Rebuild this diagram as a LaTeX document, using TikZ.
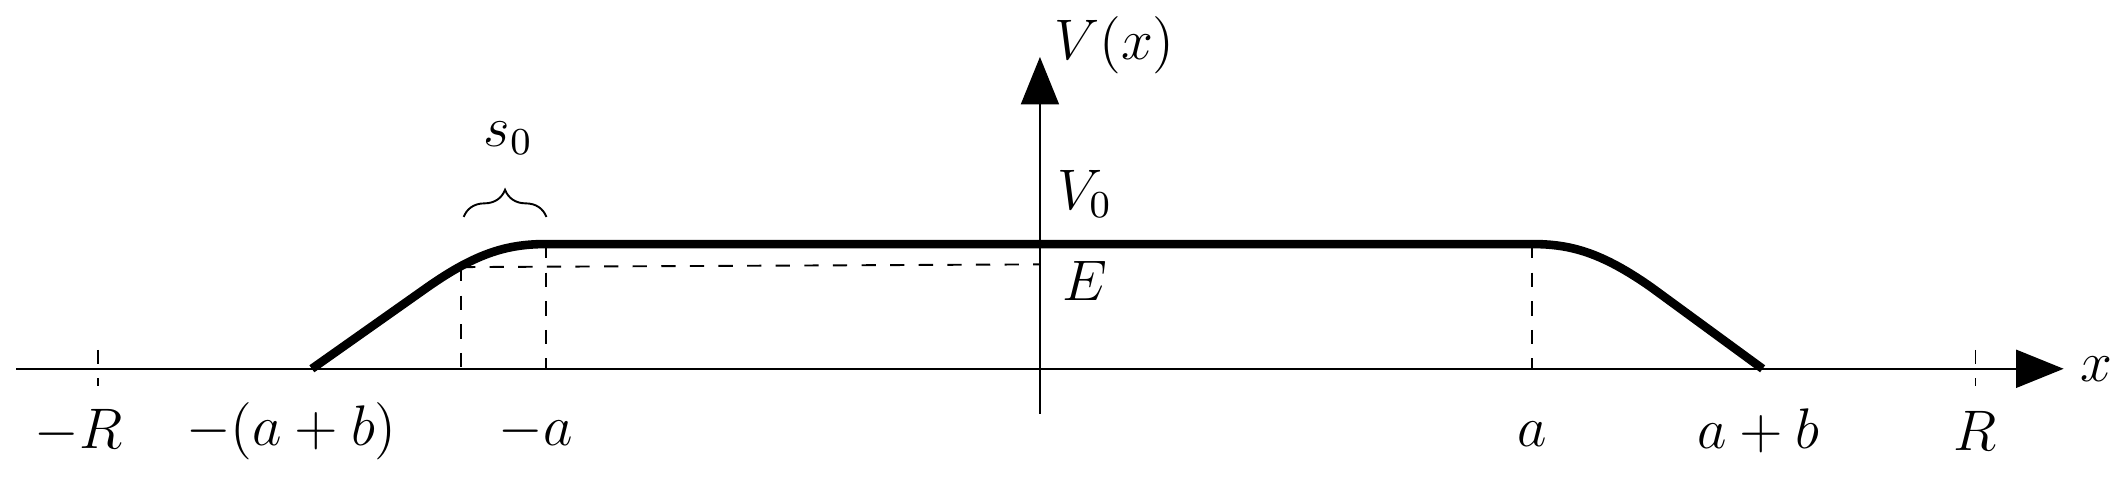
\documentclass[tikz,border=0pt]{standalone}
\usetikzlibrary{arrows.meta,decorations.pathreplacing}
\begin{document}
\begin{tikzpicture}[x=0.01cm,y=-0.01cm,font=\large,
    axis/.style={-{Triangle[length=0.35cm,width=0.28cm]}},
    guide/.style={dashed}]
    \useasboundingbox (0,0) rectangle (1568,364);
    % axes
    \coordinate (xs) at (12,272);
    \coordinate (xe) at (1522,272);
    \coordinate (ys) at (767,305);
    \coordinate (ye) at (767,42);
    \draw[axis] (xs) -- (xe) node[right] (xl) {$x$};
    \draw[axis] (ys) -- (ye);
    \node (vl) at (822,33) {$V(x)$};
    \node (v0) at (800,143) {$V_0$};
    \node (el) at (800,207) {$E$};
    % potential
    \draw[line width=1.8pt]
        (230,272) -- (315,212) .. controls (352,186) and (375,180) .. (403,180)
        -- (1130,180) .. controls (1158,180) and (1181,186) .. (1218,212) -- (1300,272);
    % guides
    \draw[guide] (340,197) -- (767,195);
    \draw[guide] (340,197) -- (340,272);
    \draw[guide] (403,180) -- (403,272);
    \draw[guide] (1130,180) -- (1130,272);
    \draw[guide] (72,258) -- (72,285);
    \draw[guide] (1457,258) -- (1457,285);
    % brace
    \draw[decorate,decoration={brace,amplitude=0.2cm,aspect=0.5}] (342,160) -- (403,160);
    \node (s0) at (375,102) {$s_0$};
    % tick labels
    \node (mr) at (58,318) {$-R$};
    \node (mab) at (215,318) {$-(a+b)$};
    \node (ma) at (395,318) {$-a$};
    \node (pa) at (1130,320) {$a$};
    \node (pab) at (1297,318) {$a+b$};
    \node (pr) at (1457,318) {$R$};
\end{tikzpicture}
\end{document}
